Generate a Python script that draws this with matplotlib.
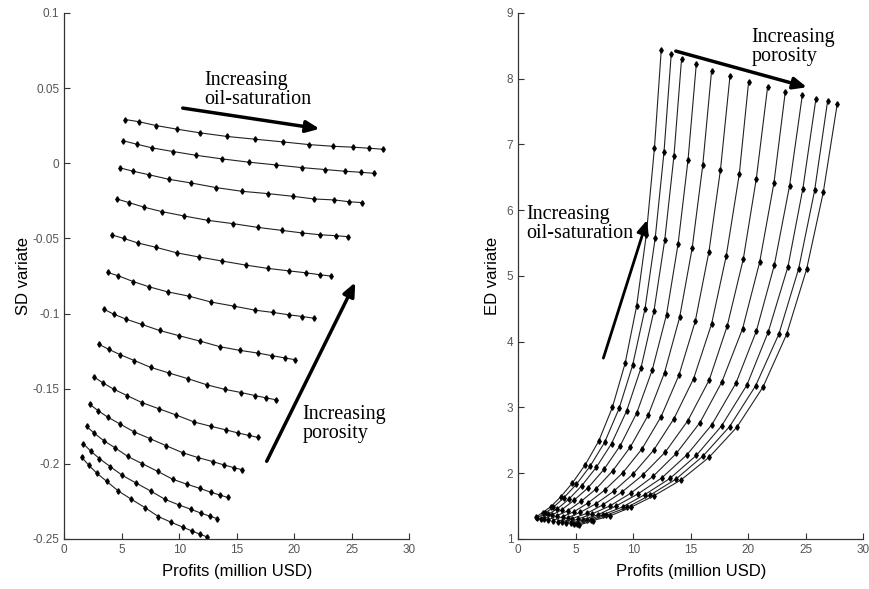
import numpy as np
import matplotlib
matplotlib.use("Agg")
import matplotlib.pyplot as plt

# Profits (million USD): one row per porosity level (low -> high),
# one column per oil-saturation level (low -> high)
profits = [
    [1.51, 2.11, 2.82, 3.69, 4.70, 5.83, 7.00, 8.18, 9.29, 10.29, 11.13, 11.84, 12.43],
    [1.65, 2.29, 3.05, 3.98, 5.05, 6.26, 7.51, 8.77, 9.94, 11.02, 11.91, 12.67, 13.30],
    [1.94, 2.61, 3.41, 4.40, 5.52, 6.79, 8.11, 9.43, 10.67, 11.80, 12.74, 13.54, 14.20],
    [2.20, 2.93, 3.79, 4.86, 6.08, 7.46, 8.87, 10.31, 11.65, 12.89, 13.90, 14.76, 15.48],
    [2.61, 3.39, 4.31, 5.45, 6.76, 8.23, 9.75, 11.29, 12.72, 14.03, 15.12, 16.04, 16.81],
    [3.01, 3.86, 4.86, 6.09, 7.50, 9.11, 10.76, 12.42, 13.97, 15.39, 16.58, 17.58, 18.41],
    [3.42, 4.29, 5.39, 6.75, 8.29, 10.00, 11.77, 13.54, 15.25, 16.81, 18.09, 19.22, 20.03],
    [3.77, 4.70, 5.97, 7.36, 8.99, 10.81, 12.78, 14.75, 16.61, 18.17, 19.57, 20.70, 21.68],
    [4.17, 5.16, 6.41, 8.00, 9.77, 11.71, 13.74, 15.80, 17.71, 19.51, 20.99, 22.23, 23.22],
    [4.58, 5.62, 6.96, 8.49, 10.41, 12.49, 14.67, 16.84, 18.93, 20.70, 22.26, 23.59, 24.70],
    [4.84, 5.97, 7.33, 9.10, 11.01, 13.19, 15.48, 17.68, 19.88, 21.74, 23.45, 24.75, 25.88],
    [5.13, 6.29, 7.65, 9.45, 11.45, 13.71, 16.06, 18.38, 20.64, 22.67, 24.38, 25.77, 26.90],
    [5.28, 6.52, 7.97, 9.77, 11.83, 14.17, 16.58, 19.01, 21.28, 23.33, 25.07, 26.52, 27.74],
]

# SD variate, same layout
sd_variate = [
    [-0.1956, -0.2008, -0.2062, -0.2117, -0.2181, -0.2236, -0.2291, -0.2351, -0.2389, -0.2421, -0.2448, -0.2470, -0.2487],
    [-0.1866, -0.1915, -0.1965, -0.2018, -0.2077, -0.2129, -0.2181, -0.2237, -0.2273, -0.2303, -0.2329, -0.2349, -0.2365],
    [-0.1751, -0.1797, -0.1845, -0.1893, -0.1951, -0.2000, -0.2050, -0.2103, -0.2136, -0.2164, -0.2189, -0.2208, -0.2224],
    [-0.1603, -0.1646, -0.1690, -0.1736, -0.1788, -0.1833, -0.1880, -0.1927, -0.1959, -0.1985, -0.2008, -0.2026, -0.2040],
    [-0.1424, -0.1463, -0.1504, -0.1546, -0.1593, -0.1634, -0.1676, -0.1722, -0.1750, -0.1774, -0.1795, -0.1811, -0.1824],
    [-0.1205, -0.1238, -0.1274, -0.1313, -0.1358, -0.1396, -0.1434, -0.1475, -0.1505, -0.1526, -0.1546, -0.1562, -0.1574],
    [-0.0971, -0.1004, -0.1038, -0.1073, -0.1113, -0.1148, -0.1183, -0.1221, -0.1245, -0.1263, -0.1281, -0.1296, -0.1307],
    [-0.0727, -0.0749, -0.0787, -0.0822, -0.0856, -0.0884, -0.0924, -0.0951, -0.0978, -0.0993, -0.1009, -0.1020, -0.1031],
    [-0.0478, -0.0500, -0.0531, -0.0560, -0.0596, -0.0624, -0.0651, -0.0678, -0.0700, -0.0716, -0.0729, -0.0742, -0.0751],
    [-0.0238, -0.0262, -0.0293, -0.0322, -0.0351, -0.0380, -0.0402, -0.0427, -0.0447, -0.0464, -0.0476, -0.0482, -0.0489],
    [-0.0031, -0.0053, -0.0076, -0.0107, -0.0131, -0.0162, -0.0187, -0.0202, -0.0220, -0.0238, -0.0244, -0.0256, -0.0262],
    [0.0149, 0.0127, 0.0102, 0.0078, 0.0053, 0.0029, 0.0007, -0.0011, -0.0029, -0.0042, -0.0053, -0.0060, -0.0067],
    [0.0291, 0.0276, 0.0251, 0.0227, 0.0202, 0.0178, 0.0160, 0.0142, 0.0124, 0.0113, 0.0107, 0.0100, 0.0093],
]

# ED variate, same layout
ed_variate = [
    [1.33, 1.40, 1.49, 1.64, 1.85, 2.13, 2.49, 3.00, 3.67, 4.54, 5.62, 6.94, 8.43],
    [1.32, 1.39, 1.48, 1.63, 1.83, 2.11, 2.47, 2.985, 3.64, 4.50, 5.58, 6.88, 8.37],
    [1.31, 1.375, 1.46, 1.605, 1.81, 2.09, 2.45, 2.95, 3.60, 4.47, 5.55, 6.83, 8.30],
    [1.30, 1.365, 1.445, 1.59, 1.78, 2.06, 2.42, 2.92, 3.57, 4.41, 5.49, 6.76, 8.22],
    [1.29, 1.355, 1.43, 1.57, 1.76, 2.04, 2.40, 2.88, 3.53, 4.37, 5.42, 6.68, 8.12],
    [1.28, 1.34, 1.415, 1.55, 1.74, 2.01, 2.37, 2.86, 3.49, 4.31, 5.37, 6.61, 8.04],
    [1.265, 1.32, 1.405, 1.535, 1.725, 1.99, 2.35, 2.83, 3.44, 4.27, 5.31, 6.55, 7.95],
    [1.255, 1.31, 1.39, 1.52, 1.71, 1.97, 2.32, 2.80, 3.42, 4.24, 5.26, 6.48, 7.87],
    [1.24, 1.30, 1.38, 1.505, 1.695, 1.95, 2.30, 2.77, 3.39, 4.20, 5.21, 6.41, 7.80],
    [1.235, 1.295, 1.37, 1.50, 1.685, 1.93, 2.28, 2.74, 3.37, 4.16, 5.16, 6.37, 7.75],
    [1.225, 1.29, 1.365, 1.49, 1.675, 1.92, 2.27, 2.72, 3.34, 4.15, 5.14, 6.33, 7.69],
    [1.22, 1.285, 1.36, 1.48, 1.665, 1.91, 2.26, 2.71, 3.33, 4.12, 5.11, 6.30, 7.66],
    [1.21, 1.28, 1.35, 1.48, 1.66, 1.90, 2.24, 2.70, 3.31, 4.11, 5.10, 6.27, 7.62],
]

sd_ticks = [-0.25, -0.2, -0.15, -0.1, -0.05, 0, 0.05, 0.1]
sd_ticklabels = ["-0.25", "-0.2", "-0.15", "-0.1", "-0.05", "0", "0.05", "0.1"]
ed_ticks = [1, 2, 3, 4, 5, 6, 7, 8, 9]
x_ticks = [0, 5, 10, 15, 20, 25, 30]

SANS = "Liberation Sans"
SERIF = "Liberation Serif"

fig = plt.figure(figsize=(8.69, 5.89), dpi=100)
ax1 = fig.add_axes([0.074, 0.085, 0.397, 0.893])
ax2 = fig.add_axes([0.5964, 0.085, 0.397, 0.893])

line_kw = dict(color="#222222", lw=0.8, marker="d", ms=2.8,
               mfc="black", mec="black")

for p, s in zip(profits, sd_variate):
    ax1.plot(p, s, **line_kw)
for p, e in zip(profits, ed_variate):
    ax2.plot(p, e, **line_kw)


def matlab_axes(ax):
    ax.spines["top"].set_visible(False)
    ax.spines["right"].set_visible(False)
    for sp in ("left", "bottom"):
        ax.spines[sp].set_color("#333333")
        ax.spines[sp].set_linewidth(0.9)
    ax.tick_params(direction="in", length=4, width=0.8, colors="#333333",
                   labelsize=8.5, labelcolor="#555555")
    for lab in ax.get_xticklabels() + ax.get_yticklabels():
        lab.set_family(SANS)
    ax.set_xlim(0, 30)
    ax.set_xlabel("Profits (million USD)", fontsize=12, family=SANS, labelpad=6)


arrow_kw = dict(arrowstyle="-|>,head_length=0.8,head_width=0.35",
                color="black", lw=2.5, shrinkA=0, shrinkB=0)

# ─── Left: SD variate ───
ax1.set_ylim(-0.25, 0.1)
ax1.set_yticks(sd_ticks)
ax1.set_yticklabels(sd_ticklabels)
ax1.set_xticks(x_ticks)
matlab_axes(ax1)
ax1.set_ylabel("SD variate", fontsize=12, family=SANS, labelpad=1)

ax1.annotate("", xy=(22.2, 0.0229), xytext=(10.3, 0.0367), arrowprops=arrow_kw)
ax1.text(12.2, 0.0615, "Increasing\noil-saturation", family=SERIF, fontsize=14.5,
         ha="left", va="top", linespacing=1.0)
ax1.annotate("", xy=(25.3, -0.0793), xytext=(17.6, -0.1983), arrowprops=arrow_kw)
ax1.text(20.7, -0.161, "Increasing\nporosity", family=SERIF, fontsize=14.5,
         ha="left", va="top", linespacing=1.0)

# ─── Right: ED variate ───
ax2.set_ylim(1, 9)
ax2.set_yticks(ed_ticks)
ax2.set_xticks(x_ticks)
matlab_axes(ax2)
ax2.set_ylabel("ED variate", fontsize=12, family=SANS, labelpad=5)

ax2.annotate("", xy=(25.1, 7.87), xytext=(13.7, 8.42), arrowprops=arrow_kw)
ax2.text(20.3, 8.77, "Increasing\nporosity", family=SERIF, fontsize=14.5,
         ha="left", va="top", linespacing=1.0)
ax2.annotate("", xy=(11.2, 5.85), xytext=(7.4, 3.75),
             arrowprops=dict(arrow_kw, lw=2.0))
ax2.text(0.67, 6.08, "Increasing\noil-saturation", family=SERIF, fontsize=14.5,
         ha="left", va="top", linespacing=1.0)

plt.savefig("out.png", dpi=100)
plt.close()
